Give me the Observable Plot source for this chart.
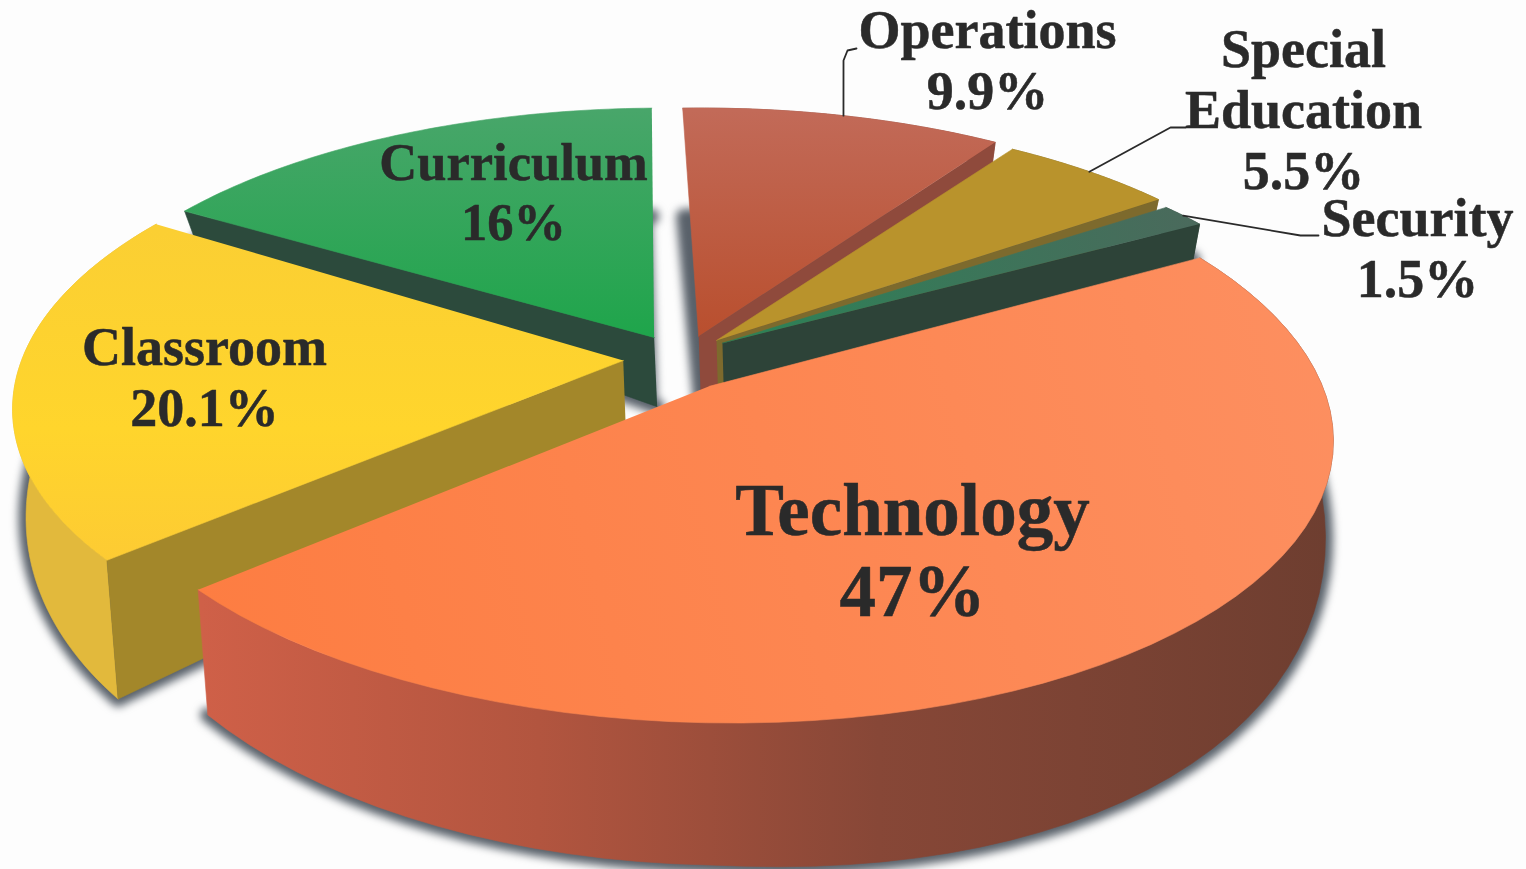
<!DOCTYPE html>
<html><head><meta charset="utf-8">
<style>html,body{margin:0;padding:0;background:#fdfdfd;overflow:hidden}svg{display:block}</style>
<script src="https://cdn.jsdelivr.net/npm/d3@7"></script>
<script src="https://cdn.jsdelivr.net/npm/@observablehq/plot@0.6"></script>
</head><body><div id="chart"></div>
<script>
// ---- data, clockwise from twelve o'clock
const categories = ["Operations","Special Education","Security","Technology","Classroom","Curriculum"];
const shares = [9.9,5.5,1.5,47,20.1,16];
const shareLabels = ["9.9%","5.5%","1.5%","47%","20.1%","16%"];
const labelLines = ["Operations","Special\nEducation","Security","Technology","Classroom","Curriculum"];

// ---- layout and style
const startAngle = -2*Math.PI/180;
const explodeU = [-0.03,0,0.01,-0.012,-0.155,-0.105];
const explodeV = [0.18,0.165,0.155,0,0.092,0.176];
const radiusU = [1,1,1,1.012,1,1];
const radiusV = [0.96,0.94,0.9,1,1,0.964];
const startNudge = [0,0,0,0,1.5,0.8];
const endNudge = [0,0,0,0,1.5,0.9];
const skews = [0,0,0,0.018,0,0];
const bulges = [0,0,0,30,0,0];
const extraDrop = [0,0,0,0,20,0];
const cutSide = ["a1","a1","a1",null,"a0","a0"];
const topFills = ["url(#opTop)","#b9932c","url(#secTop)","url(#techTop)","url(#classTop)","url(#curTop)"];
const arcFills = ["#8f4a3c","#7d6a2d","#2d4338","url(#techWall)","#e2b93c",null];
const cutFills = ["#8f4a3c","#7d6a2d","#2d4338","#6f3d30","#a3872a","#2c4a3c"];
const paintOrder = [5,0,1,2,4,3];
const labelX = [987,1303,1417,912,204,513];
const labelY = [58,108,246,549,375,190];
const labelSize = [54,54,54,73,54,52.5];
const lineHeights = {54:1.13,73:1.11,52.5:1.15};
const leaderNames = ["Operations","Special Education","Security"];
const leaderElbows = [[[843,60],[847,50],[856,48]],[[1170,127],[1185,127]],[[1300,235],[1318,235]]];

const top_ = {cx:716,cy:386,A:610,B:286,p:0.15};
const bot_ = {cy:468,B:357,p:0.1,min:24};
const project = (u,v,s=0) => { const d=1+top_.p*v; const x=top_.cx+top_.A*u/d; return [x, top_.cy-top_.B*v/d+s*(x-top_.cx)]; };
const drop = (u,v,sl,vmax=Infinity) => {
  const w=Math.min(v,vmax);
  const [x,y]=project(u,w,sl.skew); const d=1+bot_.p*w;
  const bulge=sl.bulge*Math.max(0,u)*Math.max(0,-w);
  return [x-10*u+2, Math.max(bot_.cy-bot_.B*w/d+sl.skew*(x-top_.cx)+sl.extra+bulge, y+bot_.min)];
};
const total = d3.sum(shares);
const rad = Math.PI/180;
let acc=0;
const slices = categories.map((name,i)=>{
  const a0=startAngle+acc/total*2*Math.PI+startNudge[i]*rad; acc+=shares[i]; const a1=startAngle+acc/total*2*Math.PI+endNudge[i]*rad;
  return {name,i,a0,a1,ou:explodeU[i],ov:explodeV[i],ku:radiusU[i],kv:radiusV[i],skew:skews[i],extra:extraDrop[i],bulge:bulges[i]};
});
const disk = (s,t)=>[s.ou+s.ku*Math.sin(t),s.ov+s.kv*Math.cos(t)];
const arcTs = s => d3.range(0,61).map(k=>s.a0+(s.a1-s.a0)*k/60);
const P = a => ({x:a[0],y:a[1]});
const poly = (pts,fill,extra={}) => Plot.line(pts.map(P),{x:"x",y:"y",fill,stroke:fill,strokeWidth:0.6,curve:"linear",...extra});

const shadowMarks = slices.map(s=>{
  const pts=[drop(s.ou,s.ov,s,0.76),...arcTs(s).map(t=>drop(...disk(s,t),s,0.76))];
  return poly(pts,"#59616a",{strokeWidth:15,imageFilter:"blur(4px)"});
});
const sliceMarks = paintOrder.flatMap(i=>{
  const s=slices[i];
  const ts=arcTs(s);
  const apexTop=project(s.ou,s.ov,s.skew), apexBot=drop(s.ou,s.ov,s);
  const cuts = cutSide[i] ? [poly([apexTop,project(...disk(s,s[cutSide[i]]),s.skew),drop(...disk(s,s[cutSide[i]]),s),apexBot],cutFills[i])] : [];
  const arcWall=arcFills[i] ? [poly([...ts.map(t=>project(...disk(s,t),s.skew)),...ts.slice().reverse().map(t=>drop(...disk(s,t),s))],arcFills[i])] : [];
  const face=poly([apexTop,...ts.map(t=>project(...disk(s,t),s.skew))],topFills[i]);
  return [...arcWall,...cuts,face];
});
const leaderMarks = leaderNames.map((n,k)=>{
  const s=slices.find(d=>d.name===n);
  const start=project(...disk(s,(s.a0+s.a1)/2),s.skew);
  return Plot.line([start,...leaderElbows[k]].map(P),{x:"x",y:"y",stroke:"#2a2a2a",strokeWidth:1.8,curve:"linear"});
});
const labels = categories.map((n,i)=>({text:labelLines[i]+"\n"+shareLabels[i],x:labelX[i],y:labelY[i],size:labelSize[i]}));

const grad=(id,x1,y1,x2,y2,stops)=>`<linearGradient id="${id}" gradientUnits="userSpaceOnUse" x1="${x1}" y1="${y1}" x2="${x2}" y2="${y2}">${stops.map(([o,c])=>`<stop offset="${o}" stop-color="${c}"/>`).join("")}</linearGradient>`;
const defs = () => {
  const g=document.createElementNS("http://www.w3.org/2000/svg","defs");
  g.innerHTML=[
    grad("techWall",200,0,1330,0,[[0,"#cf6048"],[0.3,"#b2553f"],[0.6,"#874737"],[1,"#6e3e30"]]),
    grad("techTop",200,600,1330,300,[[0,"#fd7d42"],[1,"#fd8f60"]]),
    grad("classTop",0,230,0,560,[[0,"#fbcf33"],[0.6,"#ffd52c"],[1,"#fdcb33"]]),
    grad("curTop",0,110,0,335,[[0,"#48a66a"],[1,"#1fa54b"]]),
    grad("opTop",0,110,0,335,[[0,"#c26a58"],[1,"#b94f2e"]]),
    grad("secTop",1190,220,730,340,[[0,"#4a6a5c"],[1,"#2b8256"]])
  ].join("");
  return g;
};

const plot = Plot.plot({
  width:1526,height:869,margin:0,
  style:{background:"#fdfdfd"},
  x:{type:"linear",domain:[0,1526],range:[0,1526],axis:null},
  y:{type:"linear",domain:[0,869],range:[0,869],axis:null},
  marks:[
    defs,
    ...shadowMarks,
    ...sliceMarks,
    ...leaderMarks,
    ...d3.group(labels,d=>d.size).entries().map(([size,rows])=>Plot.text(rows,{
      x:"x",y:"y",text:"text",fontSize:size,fontWeight:"bold",fontFamily:"'Liberation Serif',serif",
      fill:"#2a2a2a",stroke:"#2a2a2a",strokeWidth:0.5,lineHeight:lineHeights[size],lineAnchor:"middle",textAnchor:"middle"
    }))
  ]
});
document.getElementById("chart").append(plot);
</script></body></html>
